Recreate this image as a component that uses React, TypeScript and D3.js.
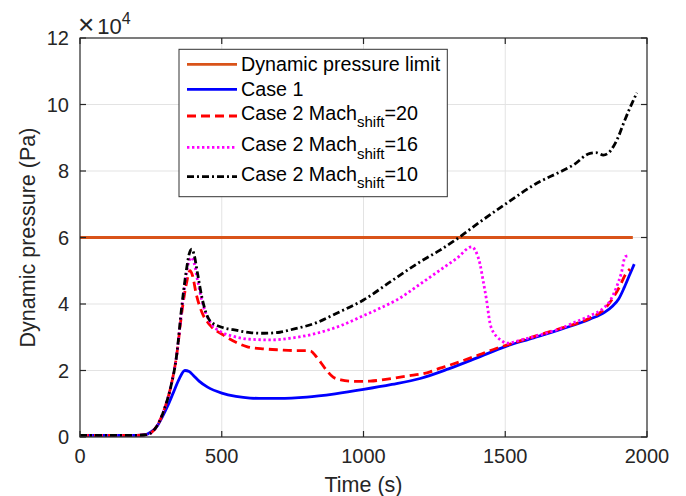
import React from "react";
import * as d3 from "d3";

// ---- data (pressure in units of 1e4 Pa, time in s) ----
const xTicks = [0, 500, 1000, 1500, 2000];
const yTicks = [0, 2, 4, 6, 8, 10, 12];

const limitT = [0, 1950];
const limitQ = [6, 6];

const case1T = [0, 100, 200, 232, 250, 270, 290, 310, 330, 350, 370, 385, 400, 420, 450, 500, 550, 600, 650, 700, 800, 900, 1000, 1100, 1200, 1300, 1400, 1500, 1600, 1700, 1800, 1850, 1880, 1900, 1920, 1940, 1955];
const case1Q = [0.05, 0.05, 0.05, 0.07, 0.15, 0.3, 0.6, 0.95, 1.35, 1.75, 2.0, 1.97, 1.85, 1.68, 1.5, 1.32, 1.22, 1.17, 1.16, 1.16, 1.2, 1.3, 1.43, 1.58, 1.76, 2.05, 2.38, 2.72, 2.98, 3.25, 3.55, 3.75, 3.95, 4.15, 4.5, 4.9, 5.2];

const m20T = [0, 100, 200, 235, 260, 282, 300, 320, 340, 360, 375, 388, 397, 410, 430, 458, 505, 550, 588, 650, 705, 760, 800, 815, 830, 847, 870, 893, 920, 952, 1000, 1023, 1100, 1152, 1235, 1270, 1300, 1352, 1410, 1470, 1500, 1600, 1700, 1799, 1850, 1880, 1905, 1923, 1940];
const m20Q = [0.05, 0.05, 0.05, 0.07, 0.2, 0.5, 0.9, 1.5, 2.4, 3.8, 4.6, 5.0, 4.85, 4.3, 3.75, 3.37, 3.07, 2.85, 2.72, 2.65, 2.62, 2.6, 2.6, 2.58, 2.45, 2.27, 2.0, 1.8, 1.72, 1.68, 1.67, 1.68, 1.76, 1.83, 1.96, 2.07, 2.15, 2.3, 2.48, 2.67, 2.75, 3.02, 3.28, 3.58, 3.85, 4.18, 4.55, 4.87, 5.05];

const m16T = [0, 100, 200, 235, 260, 282, 300, 320, 340, 360, 375, 385, 394, 402, 415, 430, 458, 500, 540, 600, 670, 750, 835, 920, 1000, 1060, 1117, 1200, 1270, 1330, 1382, 1395, 1411, 1422, 1434, 1446, 1458, 1470, 1490, 1505, 1560, 1623, 1700, 1740, 1800, 1846, 1870, 1893, 1910, 1923, 1935];
const m16Q = [0.05, 0.05, 0.05, 0.07, 0.2, 0.5, 0.9, 1.5, 2.4, 3.9, 4.9, 5.3, 5.4, 5.25, 4.7, 4.1, 3.47, 3.15, 3.03, 2.94, 2.92, 2.98, 3.12, 3.35, 3.65, 3.88, 4.12, 4.6, 5.02, 5.38, 5.72, 5.6, 5.2, 4.7, 4.12, 3.43, 3.15, 3.02, 2.88, 2.82, 2.93, 3.07, 3.28, 3.43, 3.65, 3.87, 4.1, 4.52, 4.95, 5.42, 5.45];

const m10T = [0, 100, 200, 235, 260, 282, 300, 320, 340, 360, 375, 385, 394, 402, 415, 430, 458, 500, 540, 600, 650, 705, 741, 835, 900, 1000, 1100, 1164, 1200, 1270, 1340, 1400, 1505, 1611, 1700, 1740, 1799, 1820, 1846, 1865, 1881, 1900, 1917, 1940, 1964];
const m10Q = [0.05, 0.05, 0.05, 0.07, 0.2, 0.5, 0.9, 1.5, 2.4, 4.0, 5.0, 5.5, 5.65, 5.5, 4.9, 4.2, 3.5, 3.3, 3.23, 3.14, 3.12, 3.15, 3.22, 3.44, 3.7, 4.12, 4.7, 5.07, 5.27, 5.62, 6.02, 6.4, 7.03, 7.63, 8.0, 8.18, 8.53, 8.55, 8.48, 8.55, 8.73, 9.05, 9.43, 9.9, 10.35];

const legendLabels = ["Dynamic pressure limit", "Case 1", "Case 2 Mach", "Case 2 Mach", "Case 2 Mach"];
const legendSubs = ["", "", "shift", "shift", "shift"];
const legendSuffix = ["", "", "=20", "=16", "=10"];

const FONT = "'Liberation Sans', Arial, Helvetica, sans-serif";
const AX = "#262626";
const GRID = "#e3e3e3";

const series = [
  { t: limitT, q: limitQ, color: "#D95319", dash: "" },
  { t: case1T, q: case1Q, color: "#0000FF", dash: "" },
  { t: m20T, q: m20Q, color: "#FF0000", dash: "9,5" },
  { t: m16T, q: m16Q, color: "#FF00FF", dash: "2.4,2.6" },
  { t: m10T, q: m10Q, color: "#000000", dash: "7,3,2,3" },
];

export default function App() {
  const W = 686, H = 496;
  const L = 80, R = 647, T = 38, B = 437;
  const x = d3.scaleLinear().domain([0, 2000]).range([L, R]);
  const y = d3.scaleLinear().domain([0, 12]).range([B, T]);

  const lineGen = (tt: number[], qq: number[]) =>
    d3.line<number>().x((_, i) => x(tt[i])).y((d) => y(d)).curve(d3.curveMonotoneX)(qq) || "";

  const legX0 = 179, legY0 = 49.3, legW = 268.3, legH = 147.4;
  const lineYs = [64.3, 89.3, 116, 147.3, 176.7];
  const baseYs = [71.3, 95.5, 119.6, 151, 180.5];

  return (
    <div style={{ position: "absolute", left: 0, top: 0 }}>
      <svg width={W} height={H} style={{ display: "block", background: "#fff" }} fontFamily={FONT}>
        <rect x={0} y={0} width={W} height={H} fill="#fff" />
        {/* grid */}
        {xTicks.filter((v) => v > 0 && v < 2000).map((v) => (
          <line key={"gx" + v} x1={x(v)} x2={x(v)} y1={T} y2={B} stroke={GRID} strokeWidth={1} />
        ))}
        {yTicks.filter((v) => v > 0 && v < 12).map((v) => (
          <line key={"gy" + v} x1={L} x2={R} y1={y(v)} y2={y(v)} stroke={GRID} strokeWidth={1} />
        ))}
        {/* series */}
        {series.map((s, i) => (
          <path key={"s" + i} d={lineGen(s.t, s.q)} fill="none" stroke={s.color} strokeWidth={2.8}
            strokeDasharray={s.dash || undefined} strokeLinejoin="round" />
        ))}
        {/* frame */}
        <rect x={L} y={T} width={R - L} height={B - T} fill="none" stroke={AX} strokeWidth={1.2} />
        {/* ticks */}
        {xTicks.map((v) => (
          <g key={"tx" + v}>
            <line x1={x(v)} x2={x(v)} y1={B} y2={B - 6} stroke={AX} strokeWidth={1.2} />
            <line x1={x(v)} x2={x(v)} y1={T} y2={T + 6} stroke={AX} strokeWidth={1.2} />
            <text x={x(v)} y={463} textAnchor="middle" fontSize={20} fill={AX}>{v}</text>
          </g>
        ))}
        {yTicks.map((v) => (
          <g key={"ty" + v}>
            <line x1={L} x2={L + 6} y1={y(v)} y2={y(v)} stroke={AX} strokeWidth={1.2} />
            <line x1={R} x2={R - 6} y1={y(v)} y2={y(v)} stroke={AX} strokeWidth={1.2} />
            <text x={69} y={y(v) + 7} textAnchor="end" fontSize={20} fill={AX}>{v}</text>
          </g>
        ))}
        {/* exponent */}
        <text x={78} y={34} fontSize={22} fill={AX}>
          <tspan fontSize={28}>×</tspan><tspan dx={3}>10</tspan><tspan fontSize={16} dy={-10}>4</tspan>
        </text>
        {/* axis labels */}
        <text x={(L + R) / 2} y={492} textAnchor="middle" fontSize={21.5} fill={AX}>Time (s)</text>
        <text transform={`translate(35,${(T + B) / 2}) rotate(-90)`} textAnchor="middle" fontSize={21.5} fill={AX}>
          Dynamic pressure (Pa)
        </text>
        {/* legend */}
        <rect x={legX0} y={legY0} width={legW} height={legH} fill="#fff" stroke="#333" strokeWidth={1} />
        {series.map((s, i) => (
          <g key={"lg" + i}>
            <line x1={187} x2={237} y1={lineYs[i]} y2={lineYs[i]} stroke={s.color} strokeWidth={2.8}
              strokeDasharray={s.dash || undefined} />
            <text x={241} y={baseYs[i]} fontSize={19.7} fill="#000">
              {legendLabels[i]}
              {legendSubs[i] ? <tspan fontSize={15} dy={7.5}>{legendSubs[i]}</tspan> : null}
              {legendSuffix[i] ? <tspan dy={-7.5}>{legendSuffix[i]}</tspan> : null}
            </text>
          </g>
        ))}
      </svg>
    </div>
  );
}
